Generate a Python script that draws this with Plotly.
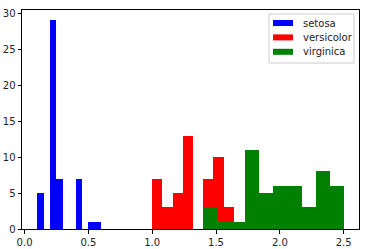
import numpy as np
import plotly.graph_objects as go

# Iris petal width (cm): distinct values and their counts per species
setosa_values = [0.1, 0.2, 0.3, 0.4, 0.5, 0.6]
setosa_counts = [5, 29, 7, 7, 1, 1]
versicolor_values = [1.0, 1.1, 1.2, 1.3, 1.4, 1.5, 1.6, 1.7, 1.8]
versicolor_counts = [7, 3, 5, 13, 7, 10, 3, 1, 1]
virginica_values = [1.4, 1.5, 1.6, 1.7, 1.8, 1.9, 2.0, 2.1, 2.2, 2.3, 2.4, 2.5]
virginica_counts = [1, 2, 1, 1, 11, 5, 6, 6, 3, 8, 3, 3]

species = ["setosa", "versicolor", "virginica"]
colors = ["blue", "red", "green"]
x_ticks = [0.0, 0.5, 1.0, 1.5, 2.0, 2.5]
y_ticks = [0, 5, 10, 15, 20, 25, 30]

data = [
    (setosa_values, setosa_counts),
    (versicolor_values, versicolor_counts),
    (virginica_values, virginica_counts),
]

W, H = 366, 249
ML, MR, MT, MB = 22, 7, 10, 20
PW, PH = W - ML - MR, H - MT - MB


def px(x):
    return (x - ML) / PW


def py(y):
    return (H - MB - y) / PH


fig = go.Figure()
ymax = 0
for name, color, (vals, cnts) in zip(species, colors, data):
    raw = np.repeat(np.array(vals), cnts)
    counts, edges = np.histogram(raw, bins=10)
    ymax = max(ymax, counts.max())
    fig.add_trace(go.Bar(
        x=edges[:-1], y=counts, width=np.diff(edges), offset=0,
        marker=dict(color=color, line=dict(width=0)),
        showlegend=False, name=name,
    ))

allmin = min(setosa_values)
allmax = max(virginica_values)
pad = (allmax - allmin) * 0.05

axis_common = dict(
    showline=True, linecolor="black", linewidth=1, mirror=True,
    ticks="outside", ticklen=3.5, tickwidth=1, tickcolor="black",
    showgrid=False, zeroline=False, automargin=False,
    tickfont=dict(family="DejaVu Sans", size=10, color="#222222"),
)

# Manual matplotlib-style legend
shapes = [dict(type="rect", xref="paper", yref="paper",
               x0=px(269), x1=px(354), y0=py(63), y1=py(14),
               line=dict(color="#cccccc", width=1), fillcolor="white",
               layer="above")]
annotations = []
for i, (name, color) in enumerate(zip(species, colors)):
    yc = 23 + i * 14.4
    shapes.append(dict(type="rect", xref="paper", yref="paper",
                       x0=px(273), x1=px(293), y0=py(yc + 3), y1=py(yc - 3),
                       line=dict(width=0), fillcolor=color, layer="above"))
    annotations.append(dict(xref="paper", yref="paper", x=px(301), y=py(yc),
                            xanchor="left", yanchor="middle", text=name,
                            showarrow=False,
                            font=dict(family="DejaVu Sans", size=10,
                                      color="#222222")))

fig.update_layout(
    width=W, height=H,
    margin=dict(l=ML, r=MR, t=MT, b=MB),
    plot_bgcolor="white", paper_bgcolor="white",
    barmode="overlay", bargap=0, showlegend=False,
    font=dict(family="DejaVu Sans", size=10, color="black"),
    xaxis=dict(range=[allmin - pad, allmax + pad], tickvals=x_ticks,
               tickformat=".1f", **axis_common),
    yaxis=dict(range=[0, ymax * 1.05], tickvals=y_ticks, **axis_common),
    shapes=shapes, annotations=annotations,
)

fig.write_html("out.html")
